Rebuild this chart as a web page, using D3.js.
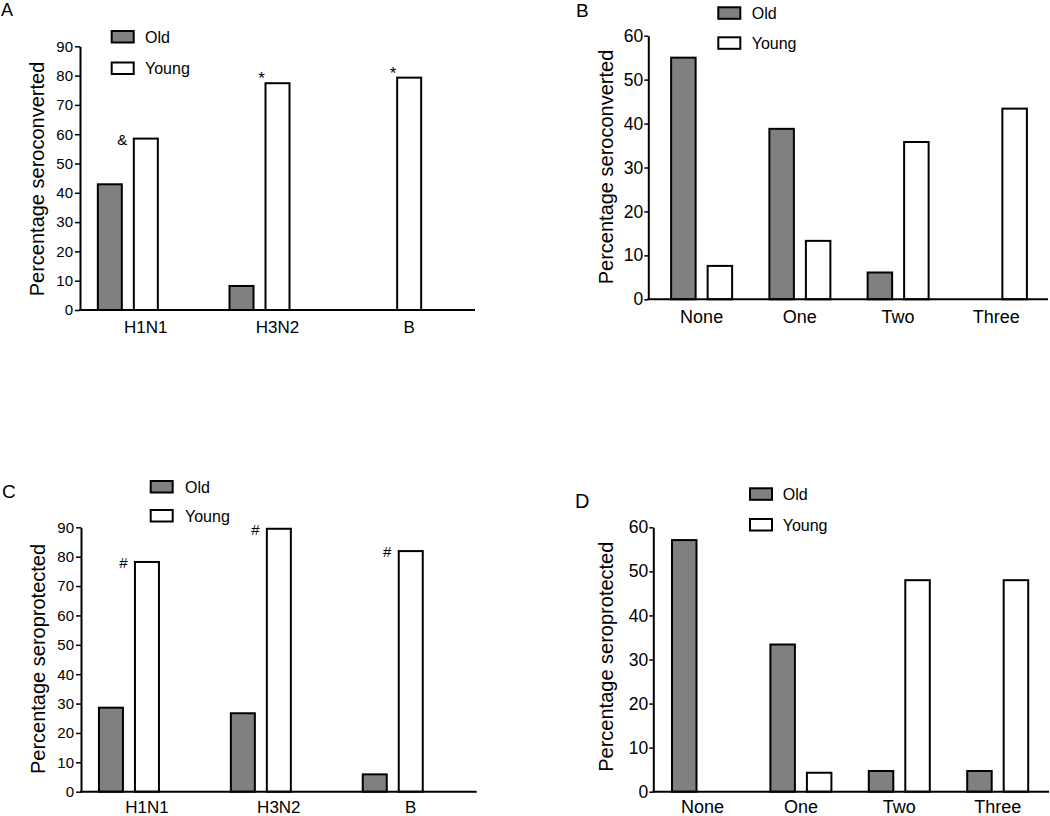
<!DOCTYPE html>
<html>
<head>
<meta charset="utf-8">
<script src="https://cdn.jsdelivr.net/npm/d3@7"></script>
<style>
  html, body { margin: 0; padding: 0; background: #fff; }
  svg { display: block; }
  text { font-family: "Liberation Sans", Arial, Helvetica, sans-serif; fill: #000; }
</style>
</head>
<body>
<svg id="chart" width="1050" height="816"></svg>
<script>
// ---------------- DATA ----------------
const strains = ["H1N1", "H3N2", "B"];
const matches = ["None", "One", "Two", "Three"];
const seriesNames = ["Old", "Young"];

const oldA = [42.9, 8.2, 0];
const youngA = [58.5, 77.4, 79.3];
const annotA = ["&", "*", "*"];

const oldB = [55.0, 38.8, 6.1, 0];
const youngB = [7.6, 13.3, 35.8, 43.4];

const oldC = [28.6, 26.7, 5.9];
const youngC = [78.2, 89.5, 81.9];
const annotC = ["#", "#", "#"];

const oldD = [57.1, 33.4, 4.7, 4.7];
const youngD = [0, 4.3, 48.0, 48.0];

const ticks90 = [0, 10, 20, 30, 40, 50, 60, 70, 80, 90];
const ticks60 = [0, 10, 20, 30, 40, 50, 60];

const titleConv = "Percentage seroconverted";
const titleProt = "Percentage seroprotected";

// ---------------- DRAWING ----------------
const svg = d3.select("#chart");
const GRAY = "#808080";

function panel(cfg) {
  const g = svg.append("g");
  const x = d3.scaleBand().domain(cfg.cats).range([cfg.bandLeft, cfg.bandRight]).padding(0);
  const slots = cfg.slots;
  const s = cfg.slotStep, gap = cfg.gap;
  const xi = d3.scaleBand().domain(slots)
    .range([-slots.length * s / 2, slots.length * s / 2])
    .paddingInner(gap / s).paddingOuter(gap / 2 / s);
  const y = d3.scaleLinear().domain([0, cfg.max]).range([cfg.y0, cfg.yTop]);

  const rows = cfg.cats.map((c, i) => ({ cat: c, Old: cfg.old[i], Young: cfg.young[i], ann: cfg.ann ? cfg.ann[i] : null }));

  // bars
  rows.forEach(r => {
    const cx = x(r.cat) + x.bandwidth() / 2;
    seriesNames.forEach(sn => {
      const v = r[sn];
      if (v <= 0) return;
      g.append("rect")
        .attr("x", cx + xi(sn))
        .attr("y", y(v))
        .attr("width", xi.bandwidth())
        .attr("height", y(0) - y(v))
        .attr("fill", sn === "Old" ? GRAY : "#fff")
        .attr("stroke", "#000")
        .attr("stroke-width", 2);
    });
    if (r.ann) {
      const yx = cx + xi("Young");
      const top = y(r.Young);
      if (r.ann === "*") {
        g.append("text").attr("x", yx - 4).attr("y", top + 1)
          .attr("text-anchor", "middle").attr("font-size", 17).text(r.ann);
      } else {
        g.append("text").attr("x", yx - 11.5).attr("y", top + 1)
          .attr("dy", "0.36em")
          .attr("text-anchor", "middle").attr("font-size", 15).text(r.ann);
      }
    }
  });

  // y axis
  const yAxis = d3.axisLeft(y).tickValues(cfg.ticks).tickSize(cfg.tickSize).tickPadding(cfg.tickPad).tickSizeOuter(0);
  const ya = g.append("g").attr("transform", `translate(${cfg.axisX},0)`).call(yAxis);
  ya.select(".domain").attr("stroke", "#000").attr("stroke-width", 2);
  ya.selectAll(".tick line").attr("stroke", "#000").attr("stroke-width", 1.5);
  ya.selectAll(".tick text").attr("font-size", cfg.tickFont)
    .attr("font-family", "'Liberation Sans', Arial, Helvetica, sans-serif").attr("fill", "#000");

  // x axis line
  g.append("line").attr("x1", cfg.axisX - 1).attr("x2", cfg.axisEnd)
    .attr("y1", y(0)).attr("y2", y(0)).attr("stroke", "#000").attr("stroke-width", 2);

  // x labels
  g.selectAll("text.xl").data(cfg.cats).join("text").attr("class", "xl")
    .attr("x", d => x(d) + x.bandwidth() / 2)
    .attr("y", cfg.xLabelY)
    .attr("text-anchor", "middle").attr("font-size", cfg.xFont).text(d => d);

  // y title
  g.append("text")
    .attr("transform", `translate(${cfg.titleX},${cfg.titleY}) rotate(-90)`)
    .attr("text-anchor", "middle").attr("dy", "0.3em")
    .attr("font-size", 20).text(cfg.title);

  // legend
  const ly = d3.scalePoint().domain(seriesNames).range([cfg.legY0, cfg.legY1]);
  seriesNames.forEach(sn => {
    g.append("rect").attr("x", cfg.legX).attr("y", ly(sn))
      .attr("width", 22).attr("height", 11.5)
      .attr("fill", sn === "Old" ? GRAY : "#fff")
      .attr("stroke", "#000").attr("stroke-width", 2);
    g.append("text").attr("x", cfg.legTextX).attr("y", ly(sn) + 5.75)
      .attr("dy", "0.36em").attr("font-size", 16).text(sn);
  });

  // panel letter
  g.append("text").attr("x", cfg.letterX).attr("y", cfg.letterY)
    .attr("font-size", cfg.letterFont).text(cfg.letter);
}

panel({
  letter: "A", letterX: 1, letterY: 16, letterFont: 18,
  cats: strains, slots: ["Old", "Young", "_"], slotStep: 36, gap: 12,
  old: oldA, young: youngA, ann: annotA,
  bandLeft: 80, bandRight: 475, axisX: 80, axisEnd: 475,
  y0: 310, yTop: 46.3, max: 90, ticks: ticks90, tickSize: 5, tickPad: 2, tickFont: 15,
  xLabelY: 333, xFont: 17,
  title: titleConv, titleX: 38, titleY: 179,
  legX: 111.7, legY0: 31, legY1: 62.5, legTextX: 145
});

panel({
  letter: "B", letterX: 576, letterY: 16.7, letterFont: 19,
  cats: matches, slots: ["Old", "Young"], slotStep: 36.5, gap: 12,
  old: oldB, young: youngB, ann: null,
  bandLeft: 652.5, bandRight: 1045.5, axisX: 648.3, axisEnd: 1048,
  y0: 299.3, yTop: 35.7, max: 60, ticks: ticks60, tickSize: 4, tickPad: 1, tickFont: 17.5,
  xLabelY: 322.7, xFont: 18,
  title: titleConv, titleX: 606.7, titleY: 167,
  legX: 718.3, legY0: 7.3, legY1: 37.3, legTextX: 751.7
});

panel({
  letter: "C", letterX: 2, letterY: 498.3, letterFont: 19,
  cats: strains, slots: ["Old", "Young", "_"], slotStep: 36, gap: 12,
  old: oldC, young: youngC, ann: annotC,
  bandLeft: 81, bandRight: 476.7, axisX: 81, axisEnd: 476.7,
  y0: 791.7, yTop: 527.3, max: 90, ticks: ticks90, tickSize: 5, tickPad: 2, tickFont: 15,
  xLabelY: 812.5, xFont: 17,
  title: titleProt, titleX: 38.7, titleY: 659,
  legX: 150.7, legY0: 481, legY1: 510, legTextX: 185
});

panel({
  letter: "D", letterX: 575, letterY: 508.3, letterFont: 20,
  cats: matches, slots: ["Old", "Young"], slotStep: 36.5, gap: 12,
  old: oldD, young: youngD, ann: null,
  bandLeft: 653.3, bandRight: 1046.9, axisX: 653.3, axisEnd: 1049,
  y0: 791.7, yTop: 527.3, max: 60, ticks: ticks60, tickSize: 4, tickPad: 1, tickFont: 17.5,
  xLabelY: 812.5, xFont: 18,
  title: titleProt, titleX: 606.7, titleY: 656.7,
  legX: 750, legY0: 488.3, legY1: 519, legTextX: 782.7
});
</script>
</body>
</html>
